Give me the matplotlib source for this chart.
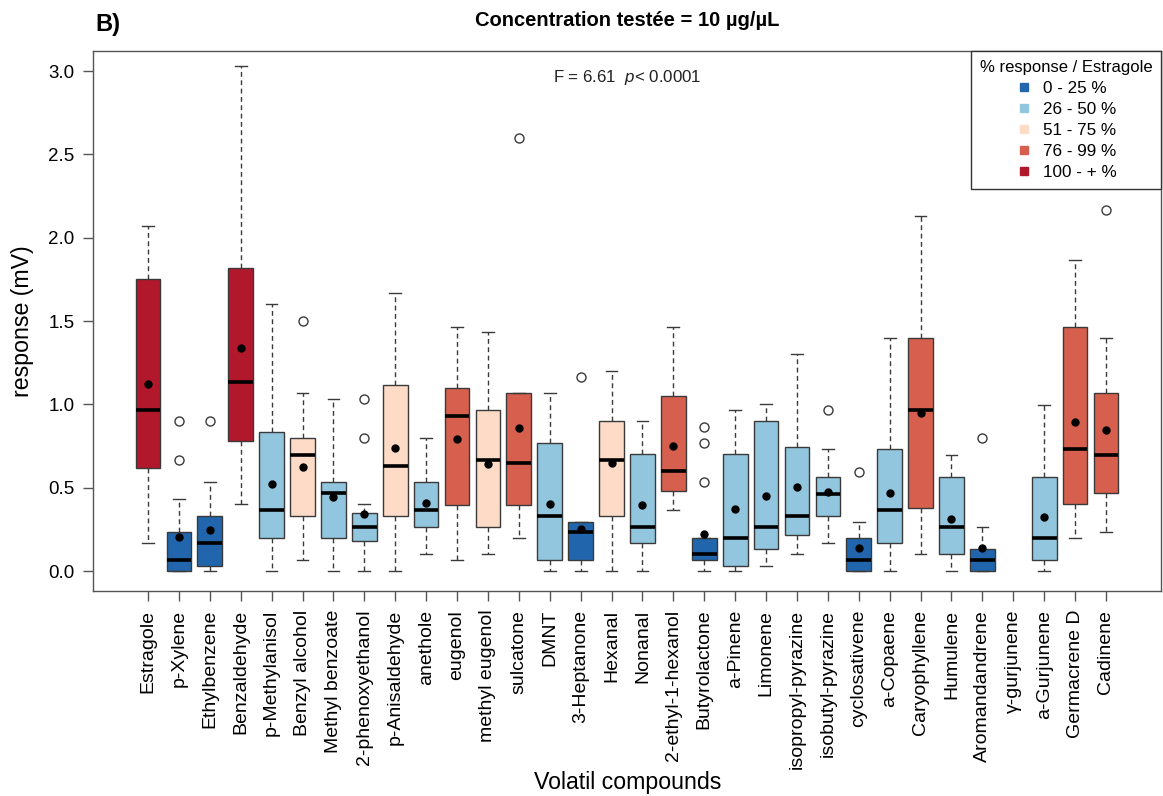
import numpy as np
import matplotlib
matplotlib.use("Agg")
import matplotlib.pyplot as plt
from matplotlib.lines import Line2D

plt.rcParams['font.family'] = ['Liberation Sans', 'DejaVu Sans']
plt.rcParams['mathtext.fontset'] = 'custom'
plt.rcParams['mathtext.rm'] = 'Liberation Sans'
plt.rcParams['mathtext.it'] = 'Liberation Sans:italic'

# compounds (x axis)
compounds = ["Estragole", "p-Xylene", "Ethylbenzene", "Benzaldehyde", "p-Methylanisol",
             "Benzyl alcohol", "Methyl benzoate", "2-phenoxyethanol", "p-Anisaldehyde",
             "anethole", "eugenol", "methyl eugenol", "sulcatone", "DMNT", "3-Heptanone",
             "Hexanal", "Nonanal", "2-ethyl-1-hexanol", "Butyrolactone", "a-Pinene",
             "Limonene", "isopropyl-pyrazine", "isobutyl-pyrazine", "cyclosativene",
             "a-Copaene", "Caryophyllene", "Humulene", "Aromandandrene", "\u03b3-gurjunene",
             "a-Gurjunene", "Germacrene D", "Cadinene"]

# box statistics (nan = no data)
nan = np.nan
whis_lo = [0.166, 0, 0, 0.4, 0, 0.066, 0, 0, 0, 0.1, 0.066, 0.1, 0.2, 0, 0, 0, 0,
           0.366, 0, 0, 0.032, 0.1, 0.166, 0, 0, 0.1, 0, 0, nan, 0, 0.196, 0.232]
q1 = [0.616, 0, 0.032, 0.782, 0.196, 0.33, 0.196, 0.182, 0.33, 0.266, 0.396, 0.266,
      0.396, 0.066, 0.066, 0.332, 0.166, 0.482, 0.066, 0.032, 0.132, 0.216, 0.332, 0,
      0.166, 0.38, 0.1, 0, nan, 0.066, 0.4, 0.466]
medians = [0.966, 0.066, 0.166, 1.132, 0.366, 0.696, 0.466, 0.266, 0.632, 0.366, 0.932,
           0.666, 0.65, 0.332, 0.232, 0.666, 0.266, 0.6, 0.1, 0.2, 0.266, 0.332, 0.462,
           0.066, 0.366, 0.966, 0.266, 0.066, nan, 0.196, 0.732, 0.696]
q3 = [1.75, 0.232, 0.332, 1.816, 0.832, 0.8, 0.532, 0.35, 1.116, 0.532, 1.1, 0.966,
      1.066, 0.766, 0.296, 0.9, 0.7, 1.05, 0.196, 0.7, 0.9, 0.746, 0.566, 0.196, 0.732,
      1.4, 0.566, 0.132, nan, 0.566, 1.466, 1.066]
whis_hi = [2.07, 0.432, 0.532, 3.03, 1.6, 1.07, 1.03, 0.4, 1.666, 0.8, 1.466, 1.432,
           1.066, 1.066, 0.296, 1.2, 0.9, 1.466, 0.196, 0.966, 1.0, 1.3, 0.732, 0.296,
           1.4, 2.13, 0.696, 0.266, nan, 0.996, 1.866, 1.396]
means = [1.12, 0.202, 0.246, 1.336, 0.522, 0.626, 0.446, 0.342, 0.736, 0.406, 0.79,
         0.642, 0.856, 0.4, 0.25, 0.646, 0.396, 0.752, 0.222, 0.372, 0.452, 0.506, 0.472,
         0.136, 0.466, 0.95, 0.312, 0.136, nan, 0.326, 0.896, 0.846]
outliers = {1: [0.666, 0.9], 2: [0.9], 5: [1.5], 7: [0.8, 1.03], 12: [2.6], 14: [1.166],
            18: [0.532, 0.766, 0.866], 22: [0.966], 23: [0.596], 27: [0.8], 31: [2.166]}

# % response / Estragole class of each compound (-1 = none)
classes = [4, 0, 0, 4, 1, 2, 1, 1, 2, 1, 3, 2, 3, 1, 0, 2, 1, 3, 0, 1, 1, 1, 1, 0, 1,
           3, 1, 0, -1, 1, 3, 3]
class_labels = ["0 - 25 %", "26 - 50 %", "51 - 75 %", "76 - 99 %", "100 - + %"]
class_colors = ["#2166AC", "#92C5DE", "#FDDBC7", "#D6604D", "#B2182B"]

fig = plt.figure(figsize=(11.63, 7.96), dpi=100)
ax = fig.add_axes([93 / 1163, 1 - 591 / 796, (1161 - 93) / 1163, (591 - 51) / 796])

stats, positions, colors = [], [], []
for i in range(len(compounds)):
    if np.isnan(medians[i]):
        continue
    stats.append(dict(med=medians[i], q1=q1[i], q3=q3[i], whislo=whis_lo[i],
                      whishi=whis_hi[i], mean=means[i], fliers=outliers.get(i, [])))
    positions.append(i + 1)
    colors.append(class_colors[classes[i]])

edge = "#3a3a3a"
bp = ax.bxp(stats, positions=positions, widths=0.8, capwidths=0.38, patch_artist=True,
            showmeans=True, manage_ticks=False,
            boxprops=dict(edgecolor=edge, linewidth=1.0),
            medianprops=dict(color="black", linewidth=2.6, solid_capstyle="butt"),
            whiskerprops=dict(color=edge, linewidth=1.0, linestyle=(0, (3.5, 2.5))),
            capprops=dict(color=edge, linewidth=1.0),
            flierprops=dict(marker="o", markerfacecolor="white", markeredgecolor=edge,
                            markersize=6.5, markeredgewidth=1.0),
            meanprops=dict(marker="o", markerfacecolor="black", markeredgecolor="black",
                           markersize=5))
for patch, c in zip(bp["boxes"], colors):
    patch.set_facecolor(c)

ax.set_xlim(-0.78, 33.78)
ax.set_ylim(-0.12, 3.12)
ax.set_xticks(np.arange(1, len(compounds) + 1))
ax.set_xticklabels(compounds, rotation=90, fontsize=14)
ax.set_yticks(np.arange(0, 3.01, 0.5))
ax.set_yticklabels([f"{v:.1f}" for v in np.arange(0, 3.01, 0.5)], fontsize=13.5)
ax.tick_params(direction="out", length=7.5, width=1.0, color="#555555", pad=6)
for s in ax.spines.values():
    s.set_color("#555555")
    s.set_linewidth(1.0)

# axis titles placed like R's mtext
fig.text(23 / 1163, 1 - 321 / 796, "response (mV)", rotation=90, ha="center",
         va="center", fontsize=16.7)
fig.text(628 / 1163, 1 - 783 / 796, "Volatil compounds", ha="center", va="center",
         fontsize=16.7)

ax.text(0.5, 2.96, r"F = 6.61  $\it{p}$< 0.0001", transform=ax.get_yaxis_transform(),
        ha="center", va="center", fontsize=12.2, color="#222222")

fig.text(627 / 1163, 1 - 20 / 796, "Concentration test\u00e9e = 10 \u00b5g/\u00b5L",
         ha="center", va="center", fontsize=14.5, fontweight="bold")
fig.text(95 / 1163, 1 - 24 / 796, "B)", ha="left", va="center", fontsize=17,
         fontweight="bold")

handles = [Line2D([], [], marker="s", linestyle="", color=c, markersize=6)
           for c in class_colors]
leg = ax.legend(handles, class_labels, title="% response / Estragole", loc="upper right",
                fontsize=12.3, title_fontsize=12, borderaxespad=0, frameon=True,
                fancybox=False, framealpha=1, edgecolor="#333333", handlelength=1,
                handletextpad=0.6, labelspacing=0.36, borderpad=0.5)
leg.get_frame().set_linewidth(1.0)

fig.savefig("out.png", dpi=100)
